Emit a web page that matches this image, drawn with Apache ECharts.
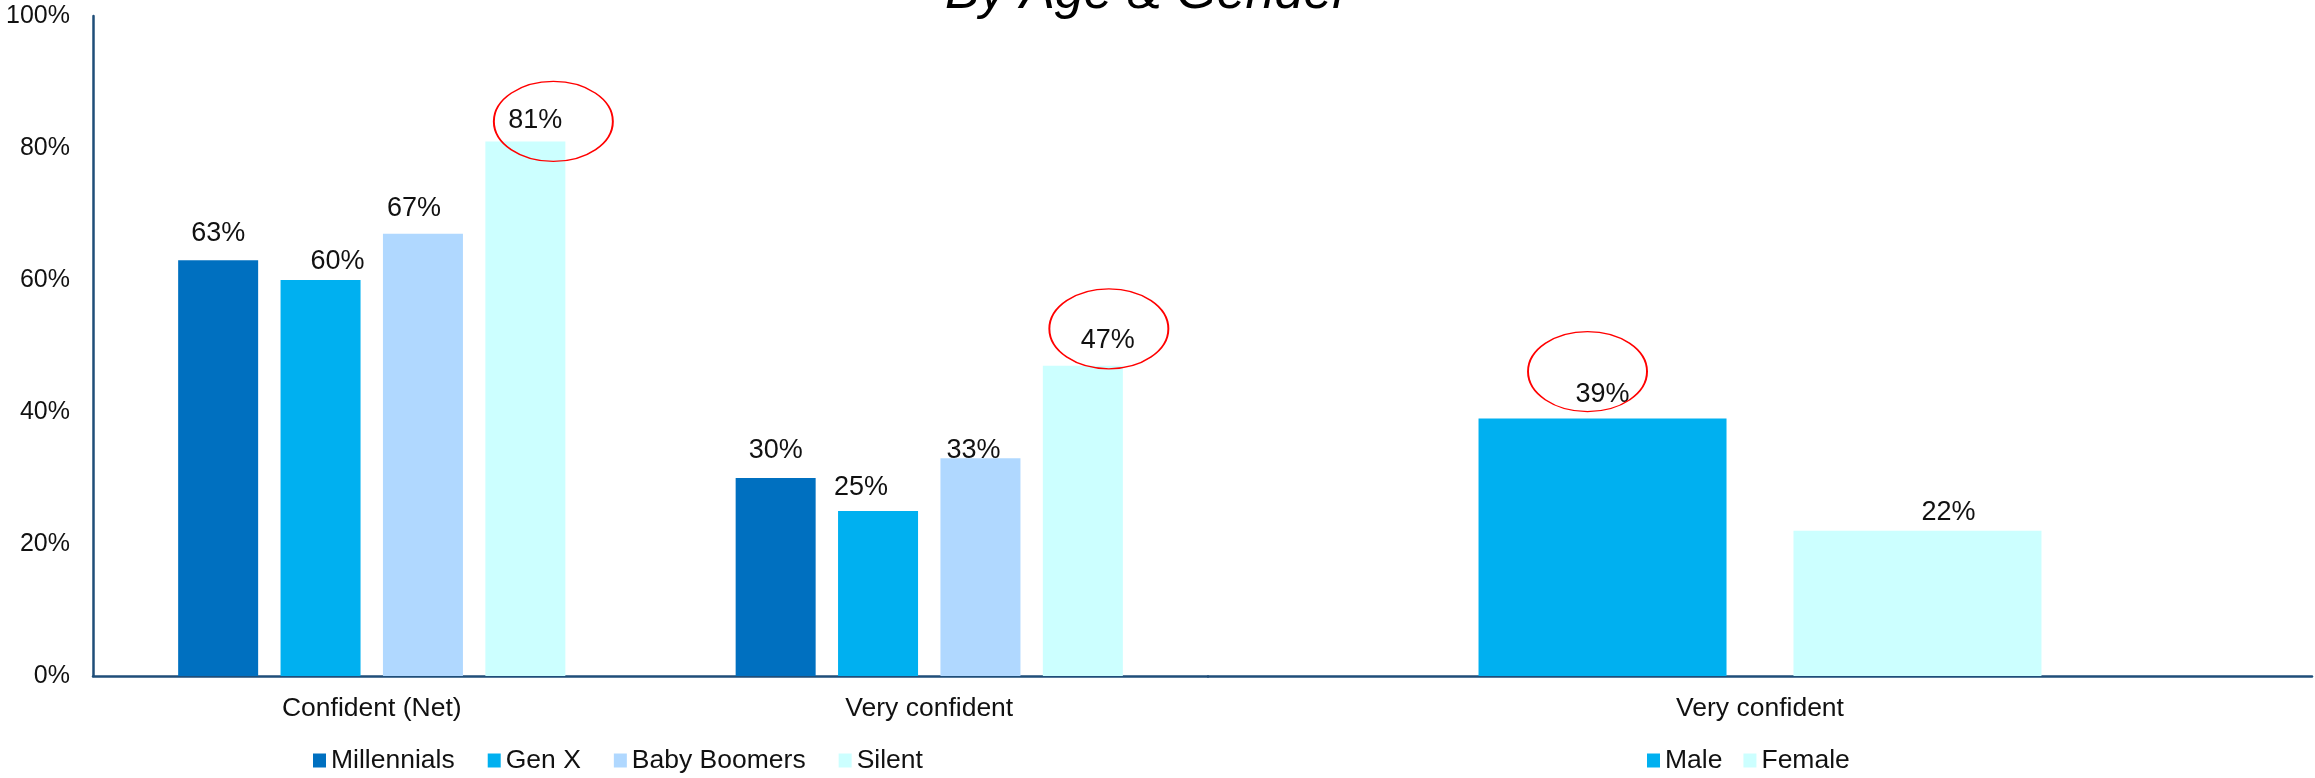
<!DOCTYPE html>
<html>
<head>
<meta charset="utf-8">
<script src="https://cdn.jsdelivr.net/npm/echarts@6/dist/echarts.min.js"></script>
<style>
  html, body { margin: 0; padding: 0; background: #ffffff; }
  #chart { width: 2315px; height: 778px; }
</style>
</head>
<body>
<div id="chart"></div>
<script>
// ---- data ----
const ageCategories = ['Confident (Net)', 'Very confident'];
const genderCategories = ['Very confident'];
const millennials = [63, 30];
const genX = [60, 25];
const babyBoomers = [67, 33];
const silent = [81, 47];
const male = [39];
const female = [22];
const yTickMin = 0;
const yTickMax = 100;
const yTickStep = 20;
const titleText = 'By Age & Gender';

// ---- styling ----
const FONT = '"Liberation Sans", Arial, sans-serif';
const AXIS_BLUE = '#1F4E79';
const TEXT = '#111111';

// small nudges for individual value labels [dx, dy]
const labelNudge = {
  'Millennials': [[0, -8], [0, -9]],
  'Gen X': [[17, 0], [-17, -5]],
  'Baby Boomers': [[-9, -7], [-7, 11]],
  'Silent': [[10, -2], [25, -7]],
  'Male': [[0, -6]],
  'Female': [[31, 0]]
};

// red rings drawn round highlighted values: index -> offset from bar top
const rings = {
  'Silent': [{ i: 0, off: [28, -20] }, { i: 1, off: [26, -37] }],
  'Male': [{ i: 0, off: [-15, -47] }]
};

function barSeries(name, values, color, gridIdx, width, gap) {
  const nudges = labelNudge[name] || [];
  const s = {
    type: 'bar',
    name: name,
    xAxisIndex: gridIdx,
    yAxisIndex: gridIdx,
    barWidth: width,
    barGap: gap,
    itemStyle: { color: color },
    label: {
      show: true,
      position: 'top',
      distance: 5,
      formatter: '{c}%',
      fontSize: 27,
      fontFamily: FONT,
      color: TEXT
    },
    data: values.map(function (v, i) {
      return { value: v, label: { offset: nudges[i] || [0, 0] } };
    })
  };
  if (rings[name]) {
    s.markPoint = {
      symbol: 'circle',
      symbolSize: [119, 80],
      silent: true,
      itemStyle: { color: 'rgba(0,0,0,0)', borderColor: '#FF0000', borderWidth: 1.6 },
      label: { show: false },
      data: rings[name].map(function (r) {
        return { coord: [r.i, values[r.i]], symbolOffset: r.off };
      })
    };
  }
  return s;
}

function xAxisFor(gridIdx, cats) {
  return {
    type: 'category',
    gridIndex: gridIdx,
    data: cats,
    axisLine: { show: true, lineStyle: { color: AXIS_BLUE, width: 2.5 } },
    axisTick: { show: false },
    axisLabel: { fontSize: 26.5, fontFamily: FONT, color: TEXT, margin: 19 }
  };
}

function yAxisFor(gridIdx, visible) {
  return {
    type: 'value',
    gridIndex: gridIdx,
    min: yTickMin,
    max: yTickMax,
    interval: yTickStep,
    show: visible,
    axisLine: { show: true, lineStyle: { color: AXIS_BLUE, width: 2.5 } },
    axisTick: { show: false },
    splitLine: { show: false },
    axisLabel: { formatter: '{value}%', fontSize: 25, fontFamily: FONT, color: TEXT, margin: 23 }
  };
}

const legendText = { fontSize: 26.5, fontFamily: FONT, color: TEXT };

const option = {
  animation: false,
  backgroundColor: '#ffffff',
  title: {
    text: titleText,
    left: 945,
    top: -32,
    padding: 0,
    textStyle: { fontSize: 52, fontStyle: 'italic', fontWeight: 'normal', fontFamily: FONT, color: '#000' }
  },
  grid: [
    { left: 93, top: 16, width: 1115, height: 660 },
    { left: 1208, top: 16, width: 1104, height: 660 }
  ],
  xAxis: [xAxisFor(0, ageCategories), xAxisFor(1, genderCategories)],
  yAxis: [yAxisFor(0, true), yAxisFor(1, false)],
  legend: [
    {
      data: ['Millennials', 'Gen X', 'Baby Boomers', 'Silent'],
      left: 313, top: 747, padding: 0,
      icon: 'rect', itemWidth: 13, itemHeight: 14, itemGap: 33,
      textStyle: legendText
    },
    {
      data: ['Male', 'Female'],
      left: 1647, top: 747, padding: 0,
      icon: 'rect', itemWidth: 13, itemHeight: 14, itemGap: 21,
      textStyle: legendText
    }
  ],
  series: [
    barSeries('Millennials', millennials, '#0070C0', 0, 80, '28%'),
    barSeries('Gen X', genX, '#00B0F0', 0, 80, '28%'),
    barSeries('Baby Boomers', babyBoomers, '#B0D8FF', 0, 80, '28%'),
    barSeries('Silent', silent, '#CCFFFF', 0, 80, '28%'),
    barSeries('Male', male, '#00B0F0', 1, 248, '27%'),
    barSeries('Female', female, '#CCFFFF', 1, 248, '27%')
  ]
};

const chart = echarts.init(document.getElementById('chart'), null, { renderer: 'canvas' });
chart.setOption(option);
</script>
</body>
</html>
